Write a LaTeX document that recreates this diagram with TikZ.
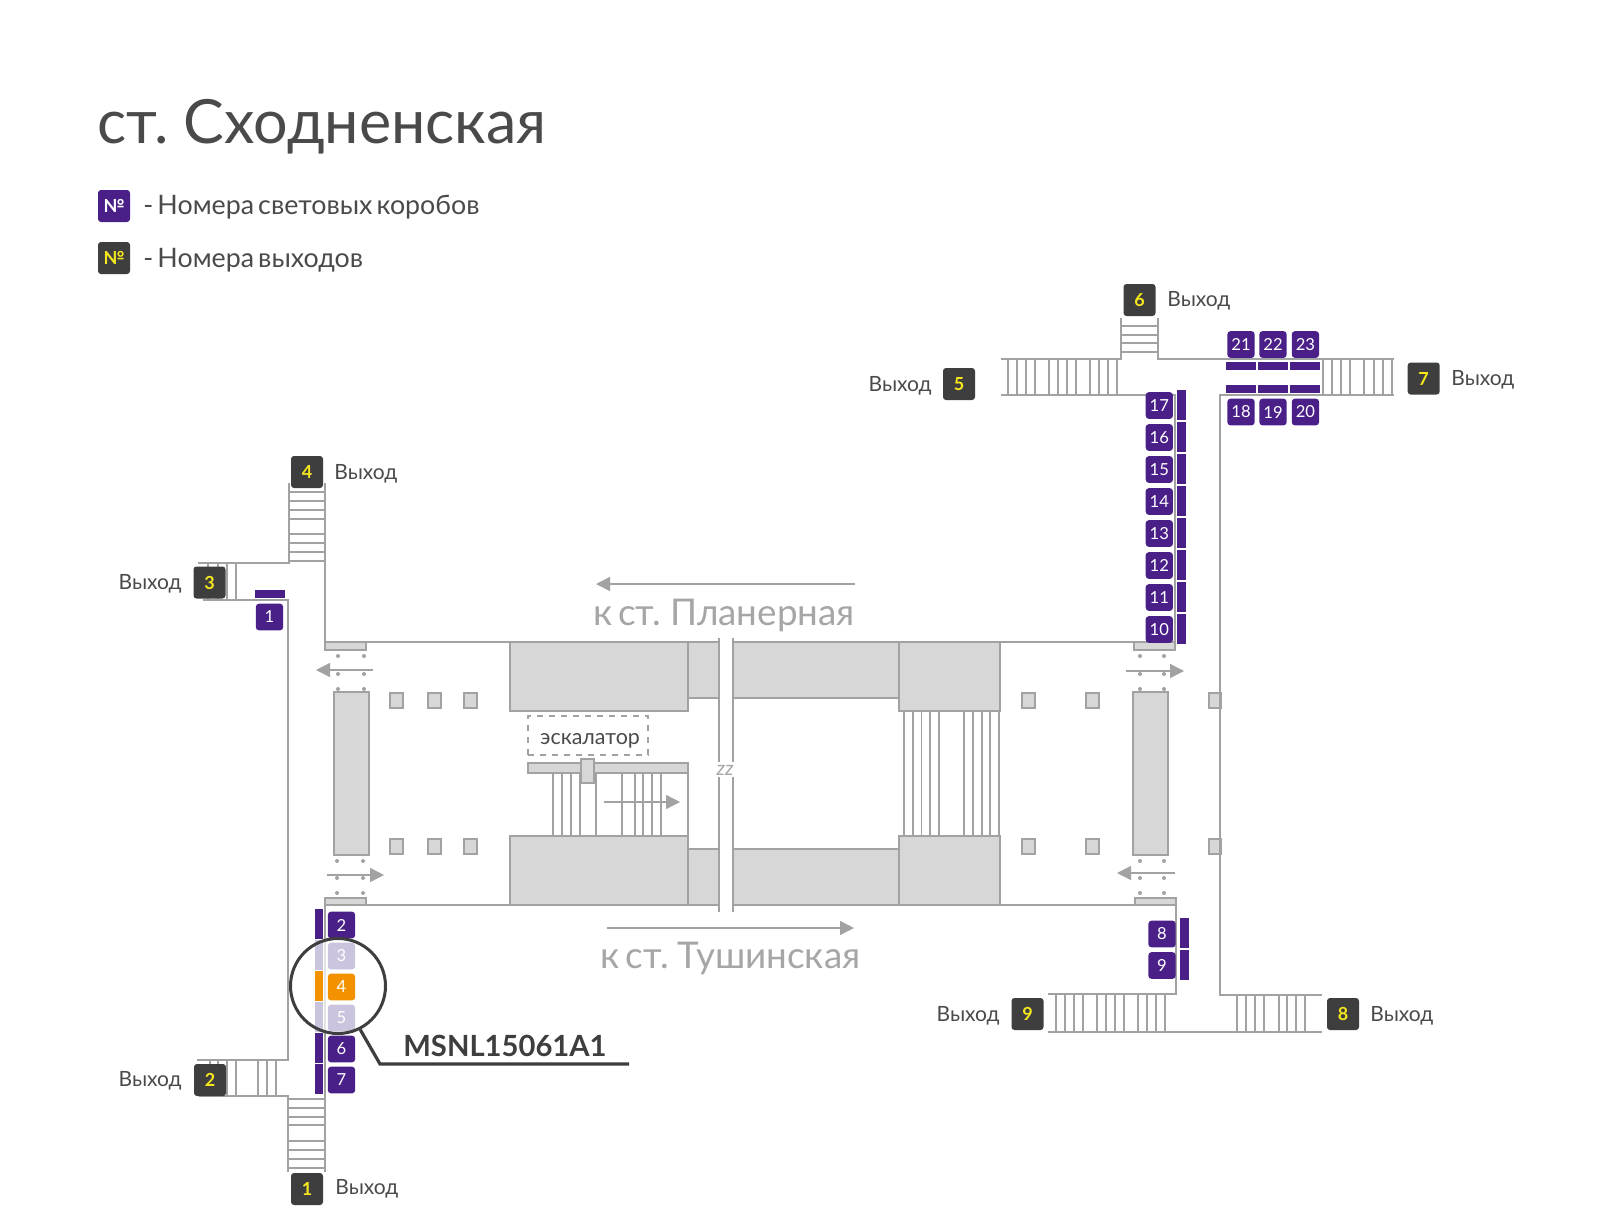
\documentclass[tikz,border=0pt]{standalone}
\usepackage{fontspec}
\setmainfont{Lato}[WordSpace=0.6]
\usetikzlibrary{arrows.meta,positioning}
\definecolor{boxpurple}{HTML}{4A2088}
\definecolor{boxfade}{HTML}{CAC4DE}
\definecolor{boxorange}{HTML}{F39200}
\definecolor{exitdark}{HTML}{3E3E3E}
\definecolor{exityellow}{HTML}{F4E71D}
\definecolor{wallgray}{HTML}{A2A2A2}
\definecolor{blockgray}{HTML}{D7D7D7}
\definecolor{textdark}{HTML}{4A4A4A}
\definecolor{textgray}{HTML}{A6A6A6}
\newcommand{\fsize}[1]{\fontsize{#1}{#1}\selectfont}

\begin{document}
\begin{tikzpicture}[
      x=0.5pt,y=-0.5pt,
      wall/.style={draw=wallgray,line width=0.8pt},
      stair/.style={draw=wallgray,line width=0.6pt},
      block/.style={draw=wallgray,fill=blockgray,line width=0.8pt},
      lightbox/.style={fill=boxpurple,text=white,rounded corners=1.5pt,inner sep=0,
        minimum width=13.6pt,minimum height=13.3pt,font=\fsize{8.3}},
      exitbox/.style={fill=exitdark,text=exityellow,rounded corners=1.5pt,inner sep=0,
        minimum width=16pt,minimum height=16pt,font=\fsize{9}\bfseries},
      vbar/.style={fill=boxpurple,inner sep=0,minimum width=4.2pt,minimum height=15pt},
      hbar/.style={fill=boxpurple,inner sep=0,minimum width=15pt,minimum height=3.9pt},
      exitlabel/.style={text=textdark,inner sep=0,font=\fsize{10.5}},
      legendlabel/.style={text=textdark,inner sep=0,font=\fsize{13.4},anchor=base west},
      linelabel/.style={text=textgray,inner sep=0,font=\fsize{18.4},anchor=base},
      dirarrow/.style={draw=wallgray,line width=0.7pt,-{Triangle[length=7pt,width=7pt]},shorten >=-0.5pt},
      stopdot/.style={fill=wallgray},
    ]
    \useasboundingbox (0,0) rectangle (1600,1216);
    \fill[white] (0,0) rectangle (1600,1216);
    % header
    \node (title) at (97,143) [anchor=base west,inner sep=0,text=textdark,font=\fsize{30.5}] {ст. Сходненская};
    \node (legbox) at (114,206) [lightbox,minimum width=16pt,minimum height=16pt,font=\fsize{9}\bfseries] {№};
    \node (legexit) at (114,258) [exitbox] {№};
    \node (legboxtext) at (143,214) [legendlabel] {- Номера световых коробов};
    \node (legexittext) at (143,267) [legendlabel] {- Номера выходов};
    %
    % pillars
    \foreach \x in {390,428,464,1022,1086}
      \foreach \y in {693,839}
        \draw[block] (\x,\y) rectangle ++(13,15);
    \foreach \y in {693,839}
      \draw[block] (1209,\y) rectangle ++(12,15);
    %
    % walls
    \draw[wall] (289,483) -- (289,563) -- (198,563);
    \draw[wall] (203,600) -- (288,600) -- (288,1060) -- (197,1060);
    \draw[wall] (199,1096) -- (288,1096) -- (288,1172);
    \draw[wall] (325,483) -- (325,642) -- (1175,642) -- (1175,395) -- (1001,395);
    \draw[wall] (1121,318) -- (1121,359) -- (1001,359);
    \draw[wall] (1158,318) -- (1158,359) -- (1394,359);
    \draw[wall] (1394,395) -- (1220,395) -- (1220,995) -- (1322,995);
    \draw[wall] (1048,1032) -- (1322,1032);
    \draw[wall] (1048,994) -- (1176,994) -- (1176,898);
    \draw[wall] (1176,905) -- (325,905);
    \draw[wall] (325,898) -- (325,1172);
    %
    % stairs
    \foreach \y in {492,501,510,519,534,543,552,561}
      \draw[stair] (289,\y) -- (325,\y);
    \foreach \y in {1099,1108,1117,1125,1141,1150,1159,1168}
      \draw[stair] (288,\y) -- (325,\y);
    \foreach \y in {326,335,343,352}
      \draw[stair] (1121,\y) -- (1158,\y);
    \foreach \x in {208,218,227,236}
      \draw[stair] (\x,563) -- (\x,600);
    \foreach \x in {210,218,227,236,258,267,276}
      \draw[stair] (\x,1060) -- (\x,1096);
    \foreach \x in {1008,1017,1026,1035,1049,1058,1067,1076,1090,1099,1108,1117}
      \draw[stair] (\x,359) -- (\x,395);
    \foreach \x in {1323,1332,1341,1350,1364,1374,1383,1392}
      \draw[stair] (\x,359) -- (\x,395);
    \foreach \x in {1056,1065,1074,1083,1097,1106,1115,1124,1138,1147,1156,1165}
      \draw[stair] (\x,994) -- (\x,1032);
    \foreach \x in {1237,1246,1255,1264,1279,1287,1296,1305}
      \draw[stair] (\x,995) -- (\x,1032);
    %
    % platform blocks
    \draw[block] (510,642) rectangle (688,711);
    \draw[block] (688,642) rectangle (899,698);
    \draw[block] (899,642) rectangle (1000,711);
    \draw[block] (510,836) rectangle (688,905);
    \draw[block] (688,849) rectangle (899,905);
    \draw[block] (899,836) rectangle (1000,905);
    \fill[white] (719,636) rectangle (733,914);
    \draw[stair] (719,638) -- (719,762) (719,777) -- (719,912);
    \draw[stair] (733,638) -- (733,762) (733,777) -- (733,912);
    \node (gap) at (725,770) [inner sep=0,text=textgray,font=\fsize{10}\itshape] {zz};
    %
    \foreach \x in {904,913,921.5,930,939,964,973,982,990,999}
      \draw[stair] (\x,711) -- (\x,836);
    \foreach \x in {553,562,571,580,596,622,635,643,652,661,688}
      \draw[stair] (\x,773) -- (\x,836);
    \draw[block] (528,763) rectangle (688,773);
    \draw[block] (581,759) rectangle (594,783);
    \node (escbox) at (588,735.5) [draw=wallgray,dashed,line width=0.6pt,inner sep=0,
      minimum width=60pt,minimum height=19.5pt] {};
    \node (esctext) at (590,744) [anchor=base,inner sep=0,text=textdark,font=\fsize{10.7}] {эскалатор};
    %
    % side blocks and stubs
    \draw[block] (334,692) rectangle (369,855);
    \draw[block] (1133,692) rectangle (1168,855);
    \draw[block] (325,642) rectangle (366,650);
    \draw[block] (325,898) rectangle (366,905);
    \draw[block] (1134,642) rectangle (1175,650);
    \draw[block] (1135,898) rectangle (1176,905);
    \foreach \x in {338,364}
      \foreach \y in {656,674,689}
        \fill[stopdot] (\x,\y) circle (1pt);
    \foreach \x in {337,363}
      \foreach \y in {861,878,893}
        \fill[stopdot] (\x,\y) circle (1pt);
    \foreach \x in {1140,1164}
      \foreach \y in {656,674,689,861,878,893}
        \fill[stopdot] (\x,\y) circle (1pt);
    %
    % direction arrows
    \draw[dirarrow] (373,670) -- (317,670);
    \draw[dirarrow] (327,875) -- (383,875);
    \draw[dirarrow] (1126,671) -- (1183,671);
    \draw[dirarrow] (1175,873) -- (1118,873);
    \draw[dirarrow] (604,802) -- (679,802);
    \draw[dirarrow] (855,584) -- (597,584);
    \draw[dirarrow] (607,928) -- (853,928);
    \node (lineup) at (724,625) [linelabel] {к ст. Планерная};
    \node (linedown) at (730.5,968) [linelabel] {к ст. Тушинская};
    %
    % light boxes
    \fill[white,opacity=.7] (338,986) circle (48);
    \node (b1) at (269.5,617) [lightbox] {1};
    \node (bar1) at (270,594) [hbar] {};
    \foreach \n/\y in {2/925,6/1049,7/1080} {
      \node (b\n) at (341.5,\y) [lightbox] {\n};
      \node (bar\n) at (319,\y-1) [vbar] {};
    }
    \foreach \n/\y in {3/956,5/1018} {
      \node (b\n) at (341.5,\y) [lightbox,fill=boxfade] {\n};
      \node (bar\n) at (319,\y-1) [vbar,fill=boxfade] {};
    }
    \node (b4) at (341.5,987) [lightbox,fill=boxorange] {4};
    \node (bar4) at (319,986) [vbar,fill=boxorange] {};
    \foreach \n/\y in {8/934,9/965.5} {
      \node (b\n) at (1162,\y) [lightbox] {\n};
      \node (bar\n) at (1184.3,\y-1) [vbar] {};
    }
    \foreach \n/\y in {17/405.5,16/437.5,15/469.5,14/501.5,13/533.5,12/565.5,11/597.5,10/629.5} {
      \node (b\n) at (1159.3,\y) [lightbox] {\n};
      \node (bar\n) at (1181.6,\y-0.5) [vbar] {};
    }
    \foreach \n/\x in {18/1241,19/1273,20/1305.4} {
      \node (b\n) at (\x,412) [lightbox] {\n};
      \node (bar\n) at (\x,389) [hbar] {};
    }
    \foreach \n/\x in {21/1241,22/1273,23/1305.4} {
      \node (b\n) at (\x,344.5) [lightbox] {\n};
      \node (bar\n) at (\x,366) [hbar] {};
    }
    %
    % exits
    \node (e1) at (307,1189) [exitbox] {1};
    \node (e2) at (210,1080) [exitbox] {2};
    \node (e3) at (209.5,582.5) [exitbox] {3};
    \node (e4) at (307,472) [exitbox] {4};
    \node (e5) at (959,384) [exitbox] {5};
    \node (e6) at (1139.5,300) [exitbox] {6};
    \node (e7) at (1423.7,378.5) [exitbox] {7};
    \node (e8) at (1343,1014) [exitbox] {8};
    \node (e9) at (1027.5,1014) [exitbox] {9};
    \node (t1) at (335,1194) [exitlabel,anchor=base west] {Выход};
    \node (t2) at (182,1086) [exitlabel,anchor=base east] {Выход};
    \node (t3) at (182,589) [exitlabel,anchor=base east] {Выход};
    \node (t4) at (334,479) [exitlabel,anchor=base west] {Выход};
    \node (t5) at (932,391) [exitlabel,anchor=base east] {Выход};
    \node (t6) at (1167,306) [exitlabel,anchor=base west] {Выход};
    \node (t7) at (1451,385) [exitlabel,anchor=base west] {Выход};
    \node (t8) at (1370,1021) [exitlabel,anchor=base west] {Выход};
    \node (t9) at (1000,1021) [exitlabel,anchor=base east] {Выход};
    %
    % highlighted box
    \node (ring) at (338,986) [circle,draw=exitdark,line width=1.5pt,inner sep=0,minimum size=47.5pt] {};
    \coordinate (bend) at (380,1064);
    \coordinate (lineend) at (629,1064);
    \draw[draw=exitdark,line width=1.6pt] (ring.-63) -- (bend) -- (lineend);
    \node (code) at (403,1056) [anchor=base west,inner sep=0,text=exitdark,font=\fsize{14.6}\bfseries] {MSNL15061A1};
  \end{tikzpicture}
\end{document}
